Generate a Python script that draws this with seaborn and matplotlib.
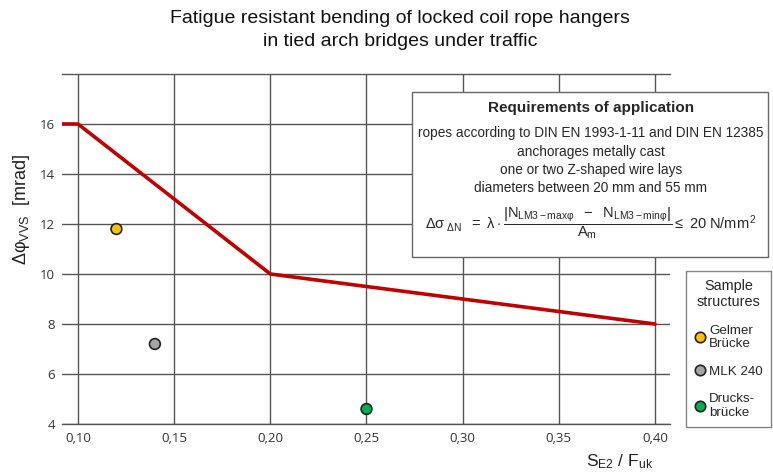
import matplotlib
matplotlib.use("Agg")
import matplotlib.pyplot as plt
import seaborn as sns
import pandas as pd
from matplotlib.patches import Rectangle
from matplotlib.lines import Line2D

# ---- data ----
limit_x = [0.09, 0.10, 0.20, 0.40]
limit_y = [16.0, 16.0, 10.0, 8.0]

structures = ["Gelmer\nBrücke", "MLK 240", "Drucks-\nbrücke"]
struct_x = [0.12, 0.14, 0.25]
struct_y = [11.8, 7.2, 4.6]
struct_colors = ["#FFC000", "#A6A6A6", "#00B050"]

x_ticks = [0.10, 0.15, 0.20, 0.25, 0.30, 0.35, 0.40]
x_tick_labels = ["0,10", "0,15", "0,20", "0,25", "0,30", "0,35", "0,40"]
y_ticks = [4, 6, 8, 10, 12, 14, 16]

title = "Fatigue resistant bending of locked coil rope hangers\nin tied arch bridges under traffic"
box_title = "Requirements of application"
box_lines = ["ropes according to DIN EN 1993-1-11 and DIN EN 12385",
             "anchorages metally cast",
             "one or two Z-shaped wire lays",
             "diameters between 20 mm and 55 mm"]

sns.set_style("white")
plt.rcParams['font.family'] = ['Liberation Sans', 'DejaVu Sans']
plt.rcParams['mathtext.fontset'] = 'custom'
plt.rcParams['mathtext.rm'] = 'Liberation Sans'
plt.rcParams['mathtext.it'] = 'Liberation Sans'
plt.rcParams['mathtext.bf'] = 'Liberation Sans:bold'

fig = plt.figure(figsize=(7.73, 4.73), dpi=100)
ax = fig.add_axes([62/773, 1-424/473, (670-62)/773, (424-74)/473])

line_df = pd.DataFrame({"x": limit_x, "y": limit_y})
sns.lineplot(data=line_df, x="x", y="y", ax=ax, color="#C00000", lw=2.6,
             estimator=None, sort=False, zorder=3)

pts_df = pd.DataFrame({"x": struct_x, "y": struct_y, "s": structures})
sns.scatterplot(data=pts_df, x="x", y="y", hue="s", palette=struct_colors,
                hue_order=structures, s=60, edgecolor="#222222", linewidth=1.2,
                ax=ax, zorder=4, legend=False)

ax.set_xlim(0.0917, 0.4078)
ax.set_ylim(4, 18)
ax.set_xticks(x_ticks)
ax.set_xticklabels(x_tick_labels, fontfamily="Open Sans", fontsize=9.5, color="#333333")
ax.set_yticks(y_ticks)
ax.set_yticklabels([str(v) for v in y_ticks], fontfamily="Open Sans", fontsize=9.5, color="#333333")
ax.tick_params(axis="x", length=0, pad=6)
ax.tick_params(axis="y", length=0, pad=5)
ax.grid(True, color="#555555", lw=1.0)
ax.set_axisbelow(True)
for s in ["left", "right"]:
    ax.spines[s].set_visible(False)
for s in ["top", "bottom"]:
    ax.spines[s].set_color("#555555")
    ax.spines[s].set_linewidth(1.0)
ax.set_xlabel("")
ax.set_ylabel("")

# axis labels
fig.text(22/773, 1-209/473, r"$\mathregular{\Delta\varphi_{VVS}}$  [mrad]", rotation=90,
         ha="center", va="center", fontsize=13, color="#222222")
fig.text(620/773, 1-462/473, r"$\mathregular{S_{E2}\ /\ F_{uk}}$", ha="center", va="center",
         fontsize=12.5, color="#222222")

fig.text(400/773, 1-30/473, title, ha="center", va="center", fontsize=14,
         linespacing=1.45, color="#111111")

# requirements box
rect = Rectangle((412/773, 1-257/473), (768-412)/773, (257-92)/473, transform=fig.transFigure,
                 facecolor="white", edgecolor="#666666", lw=1.0, zorder=5)
fig.add_artist(rect)
cx = 591/773
fig.text(cx, 1-108/473, box_title, ha="center", va="center", fontsize=11,
         fontweight="bold", zorder=6)
for yy, t in zip([133, 152, 170, 188], box_lines):
    fig.text(cx, 1-yy/473, t, ha="center", va="center", fontsize=9.8, zorder=6)
formula = (r"$\Delta\sigma_{\ \Delta N}\ \ =\ \lambda\cdot"
           r"\dfrac{\left|N_{LM3-max\varphi}\ \ -\ \ N_{LM3-min\varphi}\right|}{A_m}"
           r"\leq\ 20\ N/mm^2$")
fig.text(cx, 1-223/473, formula, ha="center", va="center", fontsize=10.5, zorder=6)

# legend
handles = [Line2D([], [], marker="o", ls="", markersize=7.5, markerfacecolor=c,
                  markeredgecolor="#222222", markeredgewidth=1.2) for c in struct_colors]
leg = fig.legend(handles, structures, title="Sample\nstructures", loc="upper left",
                 bbox_to_anchor=(686/773, 1-271/473), frameon=True, fancybox=False,
                 fontsize=9.6, title_fontsize=10.4, handletextpad=0.25, borderpad=0.6,
                 labelspacing=1.15, handlelength=0.9, borderaxespad=0)
leg.get_frame().set_edgecolor("#666666")
leg.get_frame().set_linewidth(1.0)
leg.get_title().set_multialignment("center")

fig.savefig("out.png", dpi=100)
